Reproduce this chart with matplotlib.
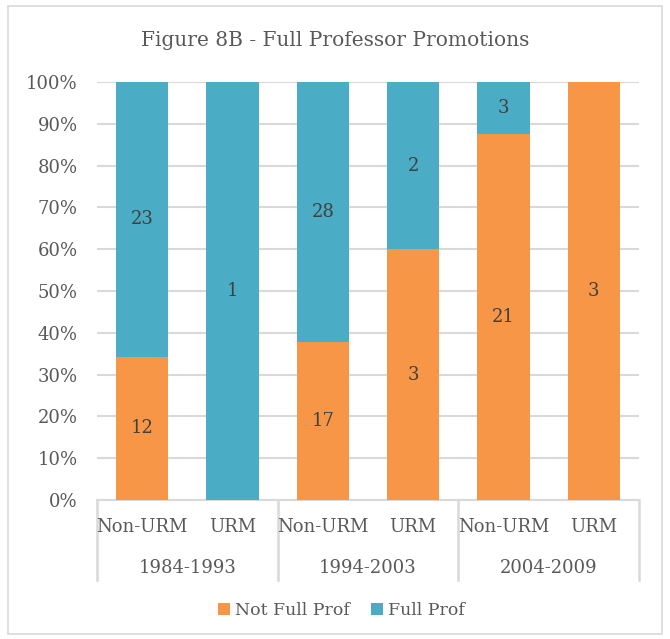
import matplotlib
matplotlib.use("Agg")
import matplotlib.pyplot as plt
import matplotlib.transforms as mtransforms
from matplotlib.patches import Rectangle, Patch
import numpy as np

periods = ["1984-1993", "1994-2003", "2004-2009"]
groups = ["Non-URM", "URM", "Non-URM", "URM", "Non-URM", "URM"]
not_full = [12, 0, 17, 3, 21, 3]
full = [23, 1, 28, 2, 3, 0]
yticks = [0, 10, 20, 30, 40, 50, 60, 70, 80, 90, 100]

ORANGE = "#F79646"
BLUE = "#4BACC6"
TXT = "#595959"
GRID = "#D9D9D9"
FONT = "DejaVu Serif"

plt.rcParams["font.family"] = FONT

fig = plt.figure(figsize=(6.7, 6.39), dpi=100)
fig.patches.append(Rectangle((0.012, 0.008), 0.976, 0.982, transform=fig.transFigure,
                             fill=False, edgecolor=GRID, linewidth=1.2))
ax = fig.add_axes([0.1448, 0.2175, 0.8089, 0.6542])

nf = np.array(not_full, float)
fu = np.array(full, float)
tot = nf + fu
nf_pct = nf / tot * 100
fu_pct = fu / tot * 100
x = np.arange(len(groups))
w = 0.58
ax.bar(x, nf_pct, w, color=ORANGE, zorder=3)
ax.bar(x, fu_pct, w, bottom=nf_pct, color=BLUE, zorder=3)

for i in range(len(x)):
    if nf[i] > 0:
        ax.text(x[i], nf_pct[i] / 2, f"{int(nf[i])}", ha="center", va="center",
                fontsize=13, color="#404040", zorder=4)
    if fu[i] > 0:
        ax.text(x[i], nf_pct[i] + fu_pct[i] / 2, f"{int(fu[i])}", ha="center", va="center",
                fontsize=13, color="#404040", zorder=4)

ax.set_xlim(-0.5, len(groups) - 0.5)
ax.set_ylim(0, 100)
ax.set_yticks(yticks)
ax.set_yticklabels([f"{t}%" for t in yticks], fontsize=13, color=TXT)
ax.tick_params(axis="y", length=0, pad=14)
ax.set_xticks([])
ax.yaxis.grid(True, color=GRID, linewidth=1.5, zorder=0)
for s in ["top", "right", "left"]:
    ax.spines[s].set_visible(False)
ax.spines["bottom"].set_color(GRID)
ax.spines["bottom"].set_linewidth(1.5)

# multi-level category axis
trans = mtransforms.blended_transform_factory(ax.transData, ax.transAxes)
ax_h_px = 0.6542 * 639
def dy(px):
    return -px / ax_h_px

for i, g in enumerate(groups):
    ax.text(x[i], dy(27), g, transform=trans, ha="center", va="center",
            fontsize=13, color=TXT, clip_on=False)
for k, p in enumerate(periods):
    ax.text(2 * k + 0.5, dy(68), p, transform=trans, ha="center", va="center",
            fontsize=13, color=TXT, clip_on=False)
for xs in [-0.5, 1.5, 3.5, 5.5]:
    ax.plot([xs, xs], [0, dy(80)], transform=trans, color=GRID, linewidth=1.8,
            clip_on=False)

fig.text(0.5, 0.937, "Figure 8B - Full Professor Promotions", ha="center", va="center",
         fontsize=14.5, color=TXT)

handles = [Patch(facecolor=ORANGE, label="Not Full Prof"),
           Patch(facecolor=BLUE, label="Full Prof")]
leg = fig.legend(handles=handles, loc="center", bbox_to_anchor=(0.51, 0.045), ncol=2,
                 frameon=False, fontsize=12.5, handlelength=0.7, handleheight=0.7,
                 handletextpad=0.3, columnspacing=1.2)
for t in leg.get_texts():
    t.set_color(TXT)

fig.savefig("out.png", dpi=100)
